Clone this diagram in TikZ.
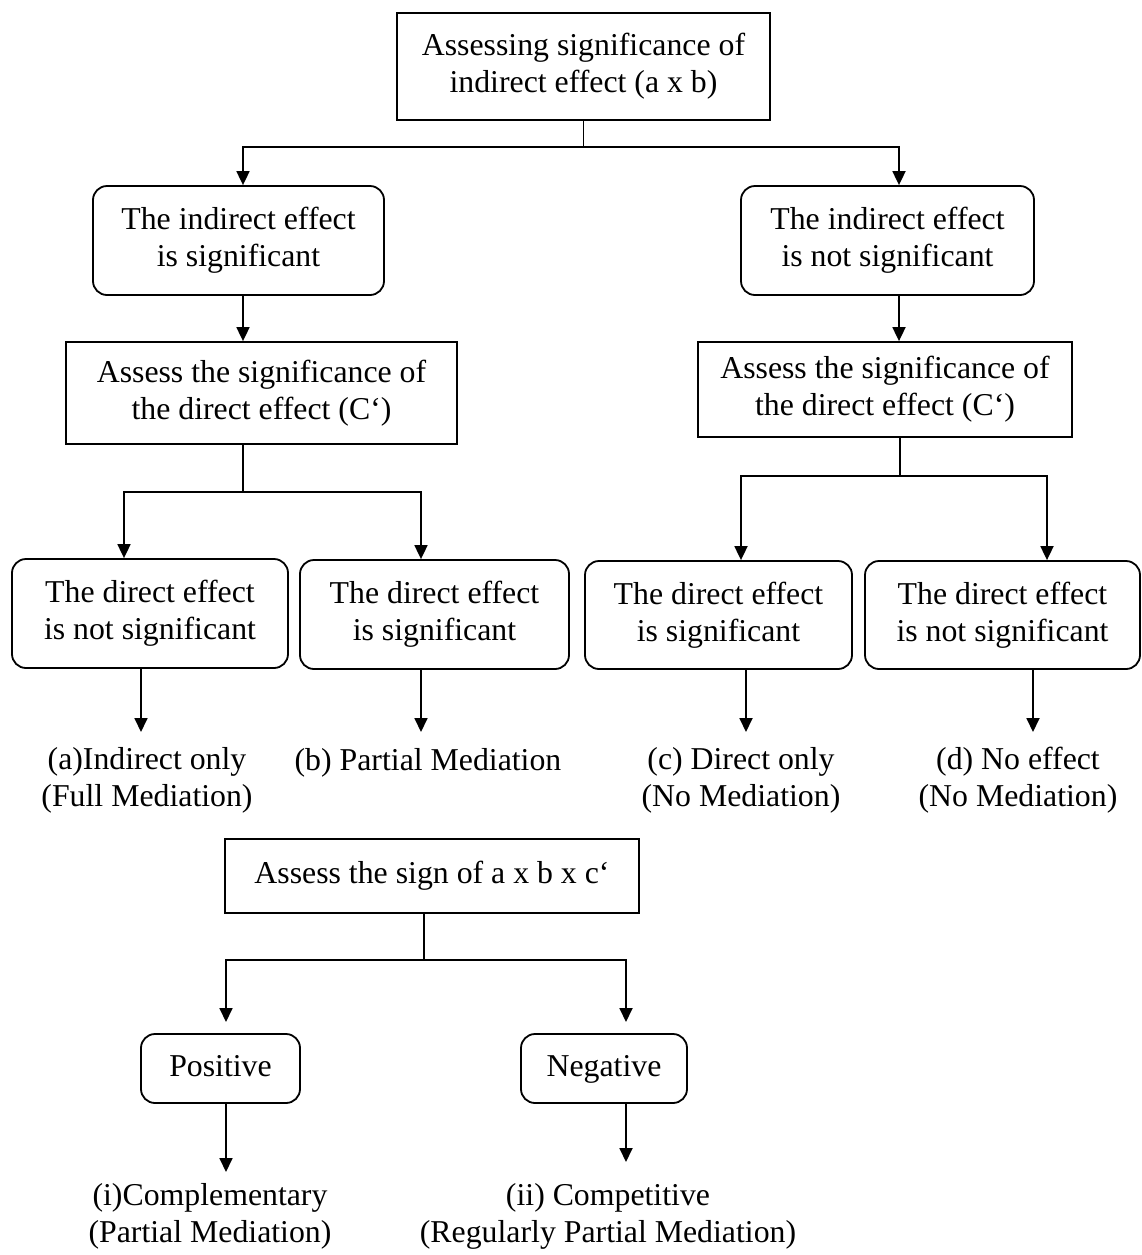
\documentclass[tikz,border=0pt]{standalone}
\usepackage{fontspec}
\setmainfont{Liberation Serif}
\usetikzlibrary{arrows.meta}
\begin{document}
\begin{tikzpicture}[x=0.5pt,y=-0.5pt,
  font=\fontsize{15.9}{18.5}\selectfont,
  box/.style={draw, line width=0.9pt, align=center, inner sep=0pt},
  rbox/.style={box, rounded corners=7pt},
  oneline/.style={text height=11pt, text depth=3.5pt},
  conn/.style={line width=0.9pt},
  stem/.style={line width=0.6pt},
  arr/.style={conn, -{Triangle[length=7pt,width=6.5pt]}},
  lbl/.style={align=center, inner sep=0pt}]
\useasboundingbox (0,0) rectangle (1142,1255);

% --- boxes ---
\node[box, minimum width=186.5pt, minimum height=53.5pt] (top) at (583.5,66.5)
  {Assessing significance of\\indirect effect (a x b)};
\node[rbox, minimum width=145.5pt, minimum height=54.5pt] (L1) at (238.5,240.5)
  {The indirect effect\\is significant};
\node[rbox, minimum width=146.5pt, minimum height=54.5pt] (R1) at (887.5,240.5)
  {The indirect effect\\is not significant};
\node[box, minimum width=195.5pt, minimum height=51pt] (L2) at (261.5,393)
  {Assess the significance of\\the direct effect (C‘)};
\node[box, minimum width=187pt, minimum height=47.5pt] (R2) at (885,389.5)
  {Assess the significance of\\the direct effect (C‘)};
\node[rbox, minimum width=138pt, minimum height=54.5pt] (B1) at (150,613.5)
  {The direct effect\\is not significant};
\node[rbox, minimum width=134.5pt, minimum height=54.5pt] (B2) at (434.5,614.5)
  {The direct effect\\is significant};
\node[rbox, minimum width=133.5pt, minimum height=54pt] (B3) at (718.5,615)
  {The direct effect\\is significant};
\node[rbox, minimum width=137.5pt, minimum height=54pt] (B4) at (1002.5,615)
  {The direct effect\\is not significant};
\node[box, oneline, minimum width=207pt, minimum height=37pt] (sign) at (432,876)
  {Assess the sign of a x b x c‘};
\node[rbox, oneline, minimum width=79.5pt, minimum height=34.5pt] (pos) at (220.5,1068.5)
  {Positive};
\node[rbox, oneline, minimum width=83pt, minimum height=34.5pt] (neg) at (604,1068.5)
  {Negative};

% --- outcome labels ---
\node[lbl] (la) at (147,780) {(a)Indirect only\\(Full Mediation)};
\node[lbl] (lb) at (428,763) {(b) Partial Mediation};
\node[lbl] (lc) at (741,780) {(c) Direct only\\(No Mediation)};
\node[lbl] (ld) at (1018,780) {(d) No effect\\(No Mediation)};
\node[lbl] (li) at (210,1216) {(i)Complementary\\(Partial Mediation)};
\node[lbl] (lii) at (608,1216) {(ii) Competitive\\(Regularly Partial Mediation)};

% --- junction points ---
\coordinate (t0) at (583.5,147);
\coordinate (tl) at (243,147);
\coordinate (tr) at (899,147);
\coordinate (l0) at (243,492);
\coordinate (la0) at (124,492);
\coordinate (lb0) at (421,492);
\coordinate (r0) at (900,476);
\coordinate (rc0) at (741,476);
\coordinate (rd0) at (1047,476);
\coordinate (s0) at (424,960);
\coordinate (sp0) at (226,960);
\coordinate (sn0) at (626,960);
\coordinate (ea) at (141,732);
\coordinate (eb) at (421,732);
\coordinate (ec) at (746,732);
\coordinate (ed) at (1033,732);
\coordinate (ep) at (226,1022);
\coordinate (en) at (626,1022);
\coordinate (ei) at (226,1172);
\coordinate (eii) at (626,1162);

% --- connectors ---
\draw[stem] (top.south) -- (t0);
\draw[arr] (t0) -- (tl) -- (tl |- L1.north);
\draw[arr] (t0) -- (tr) -- (tr |- R1.north);

\draw[arr] (tl |- L1.south) -- (tl |- L2.north);
\draw[arr] (tr |- R1.south) -- (tr |- R2.north);

\draw[stem] (l0 |- L2.south) -- (l0);
\draw[arr] (l0) -- (la0) -- (la0 |- B1.north);
\draw[arr] (l0) -- (lb0) -- (lb0 |- B2.north);

\draw[stem] (r0 |- R2.south) -- (r0);
\draw[arr] (r0) -- (rc0) -- (rc0 |- B3.north);
\draw[arr] (r0) -- (rd0) -- (rd0 |- B4.north);

\draw[arr] (ea |- B1.south) -- (ea);
\draw[arr] (eb |- B2.south) -- (eb);
\draw[arr] (ec |- B3.south) -- (ec);
\draw[arr] (ed |- B4.south) -- (ed);

\draw[stem] (s0 |- sign.south) -- (s0);
\draw[arr] (s0) -- (sp0) -- (ep);
\draw[arr] (s0) -- (sn0) -- (en);

\draw[arr] (ei |- pos.south) -- (ei);
\draw[arr] (eii |- neg.south) -- (eii);
\end{tikzpicture}
\end{document}
